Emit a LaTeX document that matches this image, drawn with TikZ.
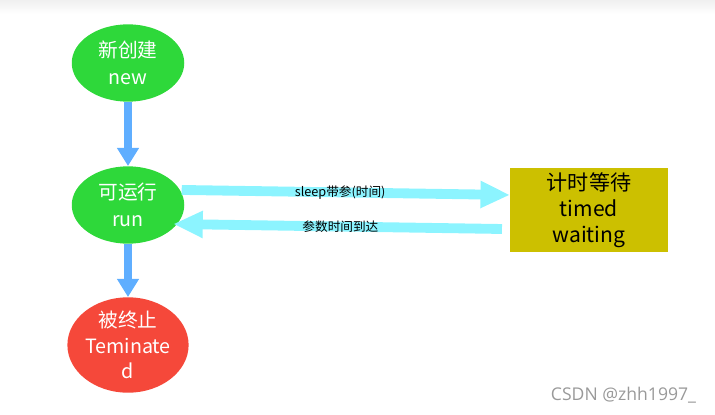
\documentclass[tikz,border=0pt]{standalone}
\usepackage{fontspec}
\setmainfont{Noto Sans CJK SC}
\newfontfamily\wmfont{Open Sans}
\usetikzlibrary{shapes.geometric,arrows.meta}
\definecolor{stgreen}{RGB}{46,216,58}
\definecolor{stred}{RGB}{245,72,58}
\definecolor{stolive}{RGB}{204,192,0}
\definecolor{stblue}{RGB}{95,174,255}
\definecolor{stcyan}{RGB}{140,244,255}

\begin{document}
\begin{tikzpicture}[x=0.025cm,y=-0.025cm,
  state/.style={ellipse,fill=#1,text=white,inner sep=0pt,minimum width=80pt,minimum height=55pt,
    align=center,font=\fontsize{14}{19}\selectfont},
  down/.style={stblue,line width=6pt,-{Triangle[width=15pt,length=13pt]}},
  side/.style={stcyan,line width=7pt,-{Triangle[width=18pt,length=21pt]}},
  lbl/.style={text=black,font=\fontsize{9}{10}\selectfont,inner sep=1pt}]
\useasboundingbox (0,0) rectangle (715,414);
\fill[top color=black!6,bottom color=white] (0,0) rectangle (715,14);
% states
\node[state=stgreen] (new) at (128,63) {新创建\\new};
\node[state=stgreen] (run) at (128,205) {可运行\\run};
\node[state=stred,minimum width=86pt,font=\fontsize{14}{18}\selectfont] (term) at (128,345) {被终止\\Teminate\\d};
\node[fill=stolive,minimum width=112pt,minimum height=60pt,align=center,
  font=\fontsize{15}{18.5}\selectfont] (timed) at (589,210) {计时等待\\timed\\waiting};
% arrows
\draw[down] (new.south) -- (run.north);
\draw[down] (run.south) -- (term.north);
\draw[side] ([yshift=10.7pt,xshift=-2pt]run.east) -- ([yshift=10.7pt]timed.west)
  node[lbl,midway,xshift=-4pt] {sleep带参(时间)};
\draw[side] ([yshift=-13.5pt,xshift=-5.7pt]timed.west) -- ([yshift=-13.5pt,xshift=-8pt]run.east)
  node[lbl,midway,xshift=2pt] {参数时间到达};
% watermark
\node[text=black!40,font=\wmfont\fontsize{12.5}{14}\selectfont,anchor=east] (wm) at (701,395) {CSDN @zhh1997\_};
\end{tikzpicture}
\end{document}
